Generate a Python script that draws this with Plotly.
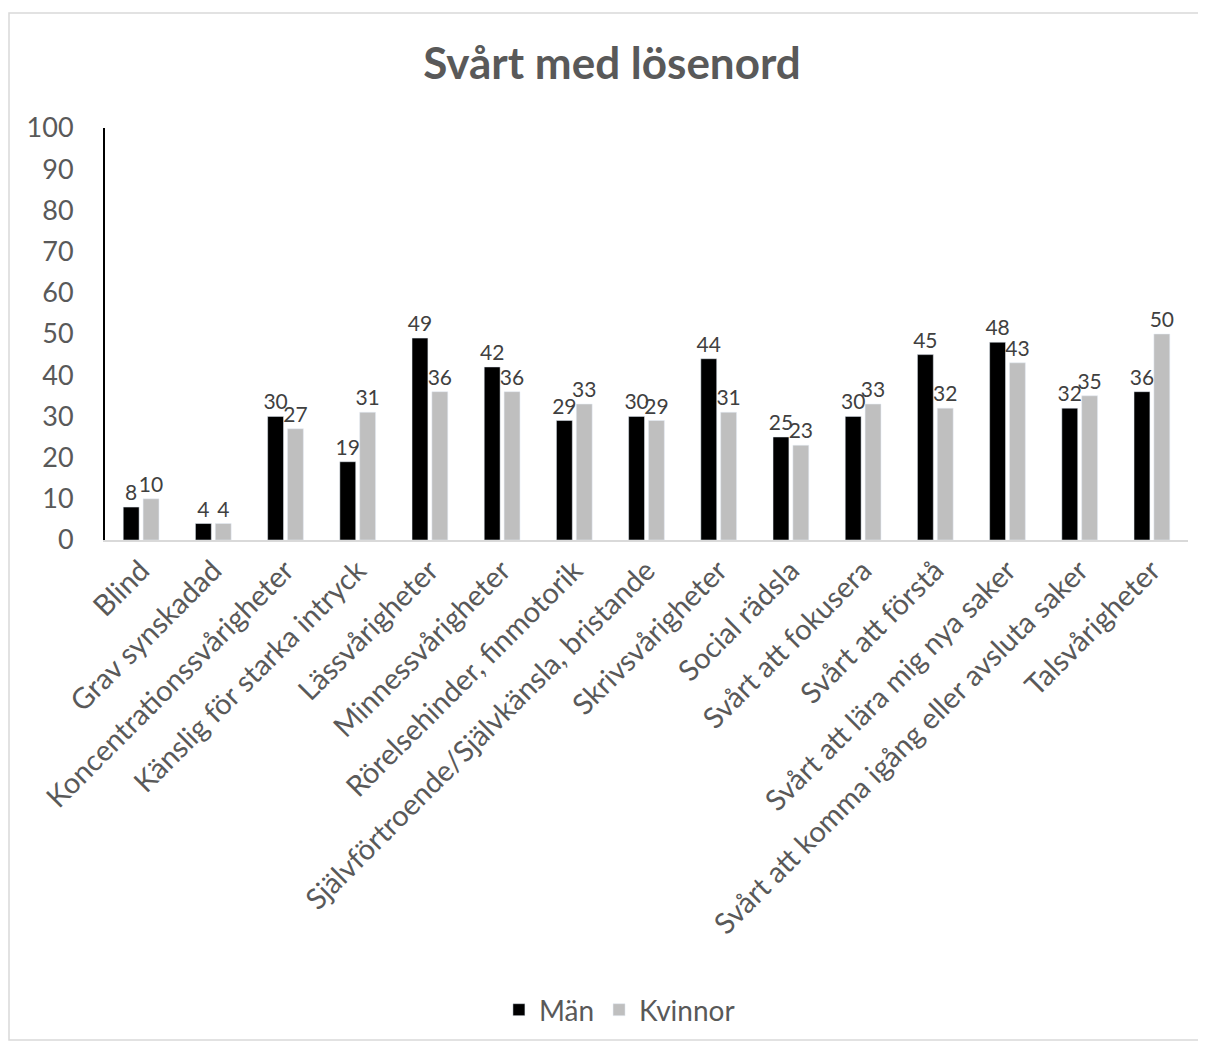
import plotly.graph_objects as go

# categories and values
kategorier = [
    "Blind", "Grav synskadad", "Koncentrationssvårigheter",
    "Känslig för starka intryck", "Lässvårigheter", "Minnessvårigheter",
    "Rörelsehinder, finmotorik", "Självförtroende/Självkänsla, bristande",
    "Skrivsvårigheter", "Social rädsla", "Svårt att fokusera",
    "Svårt att förstå", "Svårt att lära mig nya saker",
    "Svårt att komma igång eller avsluta saker", "Talsvårigheter",
]
man = [8, 4, 30, 19, 49, 42, 29, 30, 44, 25, 30, 45, 48, 32, 36]
kvinnor = [10, 4, 27, 31, 36, 36, 33, 29, 31, 23, 33, 32, 43, 35, 50]

FONT = "Lato, Carlito, Calibri, sans-serif"
# page body has an 8px margin, so the figure is sized to fit inside the window
W, H = 1198, 1036
L, R, T, B = 97, 18, 120, 504
pw, ph = W - L - R, H - T - B

fig = go.Figure()
fig.add_trace(go.Bar(x=kategorier, y=man, name="Män", marker_color="#000000",
                     text=man, textposition="outside", cliponaxis=False,
                     constraintext="none",
                     textfont=dict(size=21, color="#404040", family=FONT)))
fig.add_trace(go.Bar(x=kategorier, y=kvinnor, name="Kvinnor", marker_color="#bfbfbf",
                     text=kvinnor, textposition="outside", cliponaxis=False,
                     constraintext="none",
                     textfont=dict(size=21, color="#404040", family=FONT)))

fig.update_layout(
    width=W, height=H,
    margin=dict(l=L, r=R, t=T, b=B, autoexpand=False),
    paper_bgcolor="white", plot_bgcolor="white",
    font=dict(family=FONT, color="#595959"),
    title=dict(text="<b>Svårt med lösenord</b>", x=604 / W, xanchor="center",
               y=1 - 56 / H, yanchor="middle",
               font=dict(size=44, color="#595959", family=FONT)),
    barmode="group", bargap=0.45, bargroupgap=0.2,
    showlegend=True,
    legend=dict(orientation="h", x=0.475, xanchor="center",
                y=-(1002 - (T + ph)) / ph, yanchor="middle",
                font=dict(size=28, color="#595959", family=FONT),
                itemwidth=30, traceorder="normal"),
)
fig.update_yaxes(range=[0, 100], dtick=10, showgrid=False, zeroline=False,
                 showline=True, linecolor="#000000", linewidth=2,
                 tickfont=dict(size=27, color="#595959", family=FONT),
                 ticks="", ticklabelstandoff=24, automargin=False)
fig.update_xaxes(showgrid=False, showline=True, linecolor="#d9d9d9", linewidth=2,
                 tickangle=-45, ticks="", automargin=False,
                 tickfont=dict(size=29, color="#595959", family=FONT))

# outer chart border
fig.add_shape(type="rect", xref="paper", yref="paper",
              x0=(1 - L) / pw, x1=(1191 - L) / pw,
              y0=-(1032 - T - ph) / ph, y1=1 + (T - 5) / ph,
              line=dict(color="#d9d9d9", width=1.5), fillcolor="rgba(0,0,0,0)",
              layer="below")

fig.write_html("out.html")
